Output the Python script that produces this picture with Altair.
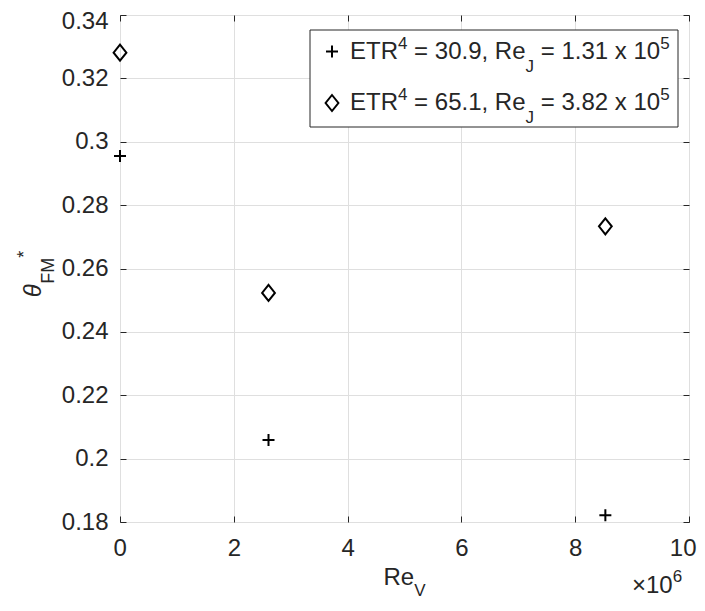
import altair as alt
import pandas as pd

# ---------------- data ----------------
re_v = [0.0, 2.61, 8.53]                 # Re_V in units of 10^6
theta_etr309 = [0.2955, 0.2059, 0.1821]  # ETR^4 = 30.9 (plus markers)
theta_etr651 = [0.3281, 0.2523, 0.2733]  # ETR^4 = 65.1 (diamond markers)
series = ["ETR4 = 30.9, ReJ = 1.31e5", "ETR4 = 65.1, ReJ = 3.82e5"]
x_ticks = [0, 2, 4, 6, 8, 10]
y_ticks = [0.18, 0.20, 0.22, 0.24, 0.26, 0.28, 0.30, 0.32, 0.34]

# ---------------- layout ----------------
W, H = 569, 507
PAD_L, PAD_T = 112, 7
OX, OY = 8 + PAD_L, 8 + PAD_T          # plot origin on the page
FONT = "Arial, Liberation Sans, Helvetica, sans-serif"
INK = "#262626"
GRID = "#dfdfdf"
MAIN, SMALL = 24, 17

PLUS = "M-1,0L1,0M0,-1L0,1"
DIAMOND = "M0,-1L0.8,0L0,1L-0.8,0Z"

df = pd.DataFrame({
    "re": re_v * 2,
    "theta": theta_etr309 + theta_etr651,
    "series": [series[0]] * 3 + [series[1]] * 3,
})
df_plus = df[df.series == series[0]]
df_diam = df[df.series == series[1]]

xs = alt.Scale(domain=[0, 10], nice=False, zero=False)
ys = alt.Scale(domain=[0.18, 0.34], nice=False, zero=False)


def xaxis(**kw):
    base = dict(values=x_ticks, title=None, labelFont=FONT, labelFontSize=MAIN,
                labelColor=INK, tickColor=INK)
    base.update(kw)
    return alt.Axis(**base)


def yaxis(**kw):
    base = dict(values=y_ticks, title=None, labelFont=FONT, labelFontSize=MAIN,
                labelColor=INK, tickColor=INK)
    base.update(kw)
    return alt.Axis(**base)


main_x = xaxis(orient="bottom", format="d", grid=True, gridColor=GRID, gridWidth=1,
               domain=False, ticks=False, labelPadding=14,
               labelFlush=True, labelFlushOffset=7)
main_y = yaxis(orient="left", format=".2~f", grid=True, gridColor=GRID, gridWidth=1,
               domain=False, ticks=False, labelPadding=12,
               labelOffset={"condition": {"test": "datum.value > 0.339", "value": 6},
                            "value": 0})

points_plus = alt.Chart(df_plus).mark_point(
    shape=PLUS, filled=False, stroke="black", strokeWidth=2, size=144, opacity=1
).encode(
    x=alt.X("re:Q", scale=xs, axis=main_x),
    y=alt.Y("theta:Q", scale=ys, axis=main_y),
)
points_diam = alt.Chart(df_diam).mark_point(
    shape=DIAMOND, filled=False, stroke="black", strokeWidth=2, size=256, opacity=1
).encode(
    x=alt.X("re:Q", scale=xs, axis=None),
    y=alt.Y("theta:Q", scale=ys, axis=None),
)

# inward ticks on all four edges (axes pushed across the plot by a negative offset)
tick_kw = dict(labels=False, domain=False, grid=False, ticks=True, tickSize=6, tickWidth=1)
ticks_a = alt.Chart(df).mark_point(opacity=0).encode(
    x=alt.X("re:Q", scale=xs, axis=xaxis(orient="top", offset=-H, **tick_kw)),
    y=alt.Y("theta:Q", scale=ys, axis=yaxis(orient="right", offset=-W, **tick_kw)),
)
ticks_b = alt.Chart(df).mark_point(opacity=0).encode(
    x=alt.X("re:Q", scale=xs, axis=xaxis(orient="bottom", offset=-H, **tick_kw)),
    y=alt.Y("theta:Q", scale=ys, axis=yaxis(orient="left", offset=-W, **tick_kw)),
)

# ---------------- rich text helpers ----------------
ARIAL = {" ": 278, ",": 278, ".": 278, "=": 584, "E": 667, "T": 611, "R": 722,
         "e": 556, "x": 500, "J": 500, "V": 667, "F": 611, "M": 833, "*": 389,
         "\u00d7": 584, "\u03b8": 556}
for d in "0123456789":
    ARIAL[d] = 556


def tw(s, size):
    return sum(ARIAL.get(c, 556) for c in s) * size / 1000.0


one = alt.Data(values=[{"a": 1}])


def rich(pieces, x0, y0, rotate=False, sup=-10, sub=13, small=SMALL):
    """pieces: list of (text, level, italic); level 0 main, 1 sup, -1 sub.
    x0, y0: page coordinates of the baseline start."""
    layers = []
    adv = 0.0
    for text, level, italic in pieces:
        size = MAIN if level == 0 else small
        dy = 0 if level == 0 else (sup if level == 1 else sub)
        lead = tw(text[: len(text) - len(text.lstrip())], size)
        shown = text.strip()
        a = adv + lead
        if rotate:
            px, py, ang = x0 + dy, y0 - a, 270
        else:
            px, py, ang = x0 + a, y0 + dy, 0
        kw = dict(text=shown, font=FONT, fontSize=size, align="left",
                  baseline="alphabetic", color=INK, angle=ang)
        if italic:
            kw["fontStyle"] = "italic"
        layers.append(alt.Chart(one).mark_text(**kw).encode(
            x=alt.value(px - OX), y=alt.value(py - OY)))
        adv += tw(text, size)
    return layers, adv


# legend
leg_box = alt.Chart(one).mark_rect(fill="white", stroke=INK, strokeWidth=1).encode(
    x=alt.value(310 - OX), x2=alt.value(678 - OX),
    y=alt.value(30 - OY), y2=alt.value(127 - OY))
leg_plus = alt.Chart(one).mark_point(shape=PLUS, filled=False, stroke="black",
                                     strokeWidth=2, size=144, opacity=1).encode(
    x=alt.value(332 - OX), y=alt.value(51.5 - OY))
leg_diam = alt.Chart(one).mark_point(shape=DIAMOND, filled=False, stroke="black",
                                     strokeWidth=2, size=256, opacity=1).encode(
    x=alt.value(332 - OX), y=alt.value(103 - OY))
row1, _ = rich([("ETR", 0, False), ("4", 1, False), (" = 30.9, Re", 0, False),
                ("J", -1, False), (" = 1.31 x 10", 0, False), ("5", 1, False)], 350, 58.5)
row2, _ = rich([("ETR", 0, False), ("4", 1, False), (" = 65.1, Re", 0, False),
                ("J", -1, False), (" = 3.82 x 10", 0, False), ("5", 1, False)], 350, 110)

# x title  Re_V  (centered under plot)
xt_w = tw("Re", MAIN) + tw("V", SMALL)
xtitle, _ = rich([("Re", 0, False), ("V", -1, False)], OX + W / 2 - xt_w / 2, 585, sub=11)
# exponent  x10^6
expo, _ = rich([("\u00d710", 0, False), ("6", 1, False)], 632, 593, sup=-11)
# y title  theta_FM^*  (rotated)
yt_w = tw("\u03b8", MAIN) + tw("FM", 18) + tw("*", 18)
ytitle, _ = rich([("\u03b8", 0, True), ("FM", -1, False), ("*", 1, False)],
                 41, 268 + 6 + yt_w / 2, rotate=True, sup=-11, sub=13, small=18)

chart = alt.layer(
    points_plus, points_diam, ticks_a, ticks_b,
    leg_box, leg_plus, leg_diam, *row1, *row2, *xtitle, *expo, *ytitle,
).resolve_axis(x="independent", y="independent").properties(
    width=W, height=H,
    autosize=alt.AutoSizeParams(type="none"),
    padding={"left": PAD_L, "top": PAD_T, "right": 8, "bottom": 81},
    background="white",
).configure_view(stroke=INK, strokeWidth=1)

chart.save("out.html", embed_options={"renderer": "svg", "actions": False})
